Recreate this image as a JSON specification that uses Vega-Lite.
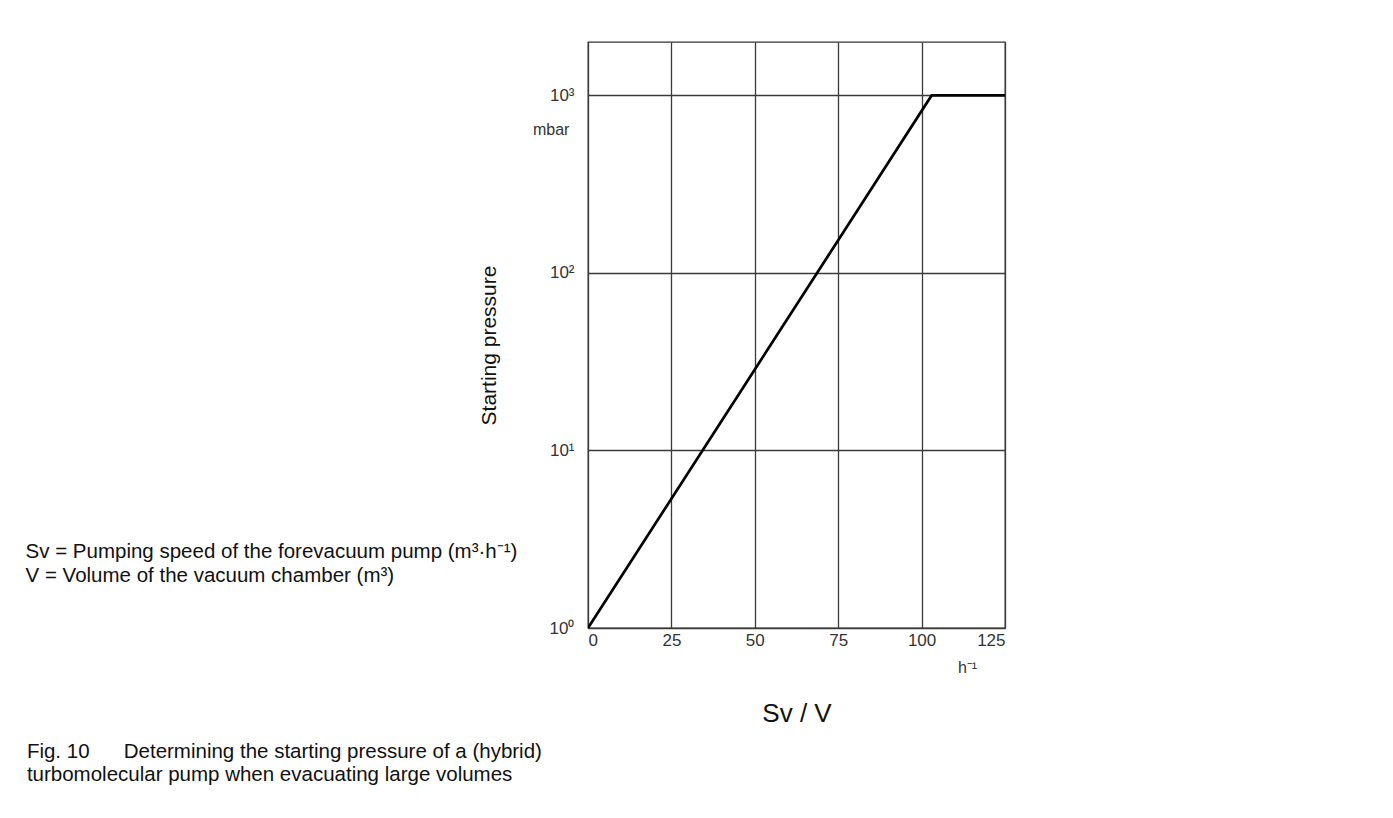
{
  "$schema": "https://vega.github.io/schema/vega-lite/v6.json",
  "autosize": "none",
  "width": 417,
  "height": 586,
  "padding": {"left": 588, "top": 42, "right": 388, "bottom": 190},
  "background": "white",
  "config": {
    "font": "Liberation Sans",
    "view": {"stroke": "#333", "strokeWidth": 1.3}
  },
  "datasets": {
    "curve": [
      {"sv": 0, "p": 1},
      {"sv": 103, "p": 1000},
      {"sv": 125, "p": 1000}
    ],
    "notes": [
      {"sv": -168.6, "p": 2.49, "label": "Sv = Pumping speed of the forevacuum pump (m³·h⁻¹)"},
      {"sv": -168.6, "p": 1.82, "label": "V = Volume of the vacuum chamber (m³)"}
    ],
    "caption": [
      {"sv": -168.2, "p": 0.186, "label": "Fig. 10\u00a0\u00a0\u00a0\u00a0\u00a0\u00a0Determining the starting pressure of a (hybrid)"},
      {"sv": -168.2, "p": 0.138, "label": "turbomolecular pump when evacuating large volumes"}
    ],
    "units": [
      {"sv": -16.5, "p": 600, "label": "mbar"},
      {"sv": 110.9, "p": 0.56, "label": "h⁻¹"}
    ]
  },
  "layer": [
    {
      "data": {"name": "curve"},
      "mark": {"type": "line", "color": "black", "strokeWidth": 2.7, "clip": true},
      "encoding": {
        "x": {
          "field": "sv", "type": "quantitative",
          "scale": {"domain": [0, 125], "nice": false, "zero": false},
          "axis": {
            "values": [0, 25, 50, 75, 100, 125],
            "grid": true, "gridColor": "#3a3a3a", "gridWidth": 1.3, "gridOpacity": 1,
            "domain": false, "ticks": false,
            "labelFontSize": 17, "labelColor": "#333", "labelPadding": 4,
            "title": "Sv / V", "titleFontSize": 26, "titleFontWeight": "normal", "titleColor": "#111",
            "titlePadding": 52
          }
        },
        "y": {
          "field": "p", "type": "quantitative",
          "scale": {"type": "log", "domain": [1, 2000], "nice": false},
          "axis": {
            "values": [1, 10, 100, 1000],
            "labelExpr": "datum.value == 1 ? '10⁰' : datum.value == 10 ? '10¹' : datum.value == 100 ? '10²' : '10³'",
            "grid": true, "gridColor": "#3a3a3a", "gridWidth": 1.3, "gridOpacity": 1,
            "domain": false, "ticks": false,
            "labelFontSize": 17, "labelColor": "#333", "labelPadding": 14,
            "title": "Starting pressure", "titleFontSize": 21, "titleFontWeight": "normal", "titleColor": "#111",
            "titlePadding": 50, "titleY": 303
          }
        }
      }
    },
    {
      "data": {"name": "notes"},
      "mark": {"type": "text", "align": "left", "baseline": "alphabetic", "color": "#111", "fontSize": 20.5, "clip": false},
      "encoding": {
        "x": {"field": "sv", "type": "quantitative"},
        "y": {"field": "p", "type": "quantitative"},
        "text": {"field": "label"}
      }
    },
    {
      "data": {"name": "caption"},
      "mark": {"type": "text", "align": "left", "baseline": "alphabetic", "color": "#111", "fontSize": 20.5, "clip": false},
      "encoding": {
        "x": {"field": "sv", "type": "quantitative"},
        "y": {"field": "p", "type": "quantitative"},
        "text": {"field": "label"}
      }
    },
    {
      "data": {"name": "units"},
      "mark": {"type": "text", "align": "left", "baseline": "alphabetic", "color": "#333", "fontSize": 16, "clip": false},
      "encoding": {
        "x": {"field": "sv", "type": "quantitative"},
        "y": {"field": "p", "type": "quantitative"},
        "text": {"field": "label"}
      }
    }
  ]
}
